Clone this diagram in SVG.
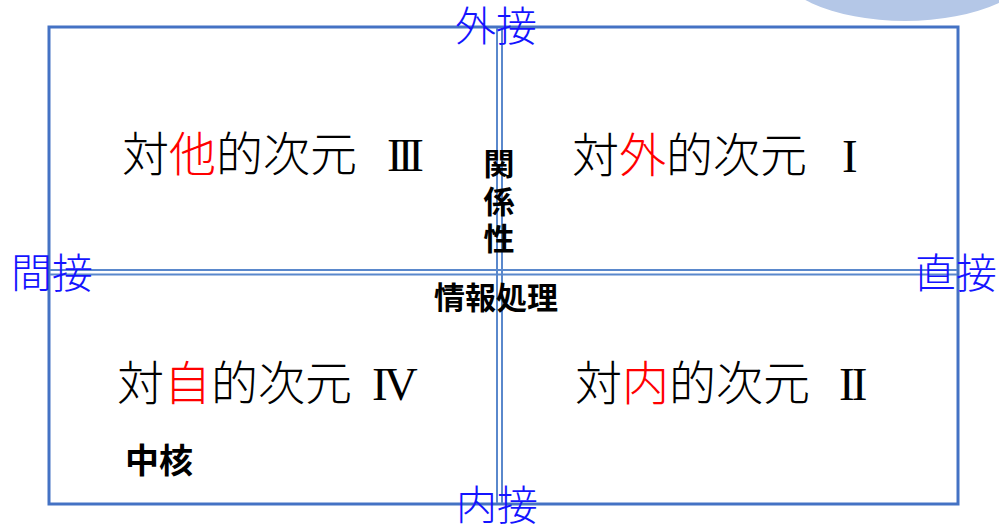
<svg xmlns="http://www.w3.org/2000/svg" width="999" height="526" viewBox="0 0 999 526">
<style>
.frame{fill:none;stroke:#4472C4;stroke-width:3}
.axis{stroke:#5A88CC;stroke-width:2;fill:none}
.dim{font-family:"Noto Sans CJK JP","Noto Sans CJK SC",sans-serif;font-size:47px;font-weight:300;fill:#000}
.red{fill:#FF0000}
.num{font-family:"Liberation Serif",serif;font-size:47px;font-weight:normal}
.edge{font-family:"Noto Sans CJK JP","Noto Sans CJK SC",sans-serif;font-size:41px;font-weight:300;fill:#1414FF;text-anchor:middle}
.bold{font-family:"Noto Sans CJK JP","Noto Sans CJK SC",sans-serif;font-weight:bold;fill:#000;text-anchor:middle}
</style>
<rect width="999" height="526" fill="#fff"/>
<ellipse cx="905" cy="-40" rx="132" ry="61" fill="#B4C7E7"/>
<g id="frame">
<rect class="frame" x="49" y="27" width="909" height="477"/>
</g>
<g id="connectors">
<line class="axis" x1="497" y1="28" x2="497" y2="503"/>
<line class="axis" x1="502" y1="28" x2="502" y2="503"/>
<line class="axis" x1="50" y1="270" x2="957" y2="270"/>
<line class="axis" x1="50" y1="274.5" x2="957" y2="274.5"/>
</g>
<g id="q3"><text class="dim" x="122" y="171">対<tspan class="red">他</tspan>的次元<tspan class="num" x="387" letter-spacing="-5">III</tspan></text></g>
<g id="q1"><text class="dim" x="572" y="172">対<tspan class="red">外</tspan>的次元<tspan class="num" x="842">I</tspan></text></g>
<g id="q4"><text class="dim" x="117" y="400">対<tspan class="red">自</tspan>的次元<tspan class="num" x="372" letter-spacing="-4">IV</tspan></text></g>
<g id="q2"><text class="dim" x="575" y="400">対<tspan class="red">内</tspan>的次元<tspan class="num" x="839" letter-spacing="-3">II</tspan></text></g>
<g id="outer"><text class="edge" x="496" y="41">外接</text></g>
<g id="inner"><text class="edge" x="497" y="520">内接</text></g>
<g id="indirect"><text class="edge" x="52" y="288">間接</text></g>
<g id="direct"><text class="edge" x="956" y="288">直接</text></g>
<g id="relation"><text class="bold" font-size="31" x="499"><tspan x="499" y="175">関</tspan><tspan x="499" y="213">係</tspan><tspan x="499" y="250">性</tspan></text></g>
<g id="info"><text class="bold" font-size="31" x="496" y="309">情報処理</text></g>
<g id="core"><text class="bold" font-size="34" x="159" y="473">中核</text></g>
</svg>
